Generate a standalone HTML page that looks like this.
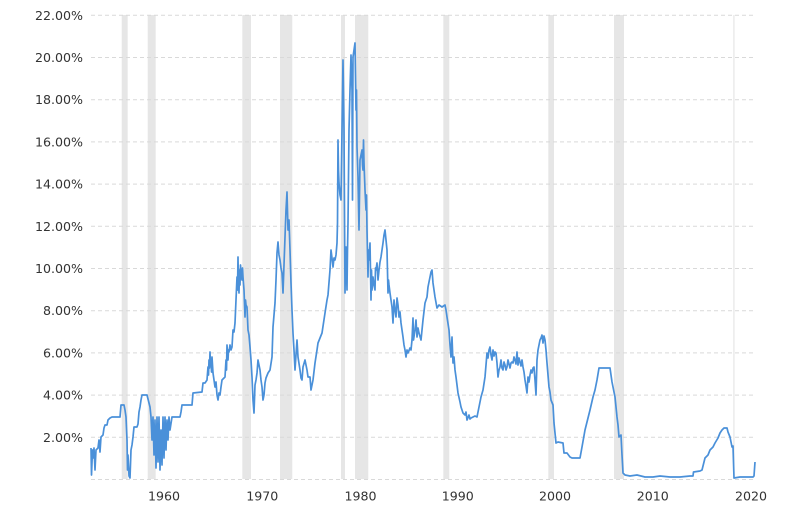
<!DOCTYPE html>
<html><head><meta charset="utf-8"><style>
html,body{margin:0;padding:0;background:#fff;}
svg{display:block;}
text{font-family:"DejaVu Sans","Liberation Sans",sans-serif;font-size:12.6px;fill:#333;}
</style></head><body>
<svg width="800" height="505" viewBox="0 0 800 505" xmlns="http://www.w3.org/2000/svg">
<g fill="#e6e6e6">
<rect x="121.7" y="15" width="6" height="464"/>
<rect x="147.7" y="15" width="8" height="464"/>
<rect x="242.3" y="15" width="8.7" height="464"/>
<rect x="280" y="15" width="12.3" height="464"/>
<rect x="341" y="15" width="4" height="464"/>
<rect x="355" y="15" width="13.3" height="464"/>
<rect x="443.3" y="15" width="6" height="464"/>
<rect x="548.3" y="15" width="5.7" height="464"/>
<rect x="614" y="15" width="10" height="464"/>
<rect x="733.3" y="15" width="1.2" height="464"/>
</g>
<g stroke="#d9d9d9" stroke-width="1" stroke-dasharray="4,3">
<line x1="91" y1="479.5" x2="755" y2="479.5"/>
<line x1="91" y1="437.3" x2="755" y2="437.3"/>
<line x1="91" y1="395.1" x2="755" y2="395.1"/>
<line x1="91" y1="352.9" x2="755" y2="352.9"/>
<line x1="91" y1="310.7" x2="755" y2="310.7"/>
<line x1="91" y1="268.5" x2="755" y2="268.5"/>
<line x1="91" y1="226.3" x2="755" y2="226.3"/>
<line x1="91" y1="184.1" x2="755" y2="184.1"/>
<line x1="91" y1="141.9" x2="755" y2="141.9"/>
<line x1="91" y1="99.7" x2="755" y2="99.7"/>
<line x1="91" y1="57.5" x2="755" y2="57.5"/>
<line x1="91" y1="15.3" x2="755" y2="15.3"/>
</g>
<g text-anchor="end">
<text x="83" y="441.8">2.00%</text>
<text x="83" y="399.6">4.00%</text>
<text x="83" y="357.4">6.00%</text>
<text x="83" y="315.2">8.00%</text>
<text x="83" y="273">10.00%</text>
<text x="83" y="230.8">12.00%</text>
<text x="83" y="188.6">14.00%</text>
<text x="83" y="146.4">16.00%</text>
<text x="83" y="104.2">18.00%</text>
<text x="83" y="62">20.00%</text>
<text x="83" y="19.8">22.00%</text>
</g>
<g text-anchor="middle">
<text x="164" y="500.5">1960</text>
<text x="262.3" y="500.5">1970</text>
<text x="360.5" y="500.5">1980</text>
<text x="457.8" y="500.5">1990</text>
<text x="555" y="500.5">2000</text>
<text x="652.8" y="500.5">2010</text>
<text x="751" y="500.5">2020</text>
</g>
<polyline fill="none" stroke="#4a90d9" stroke-width="1.7" stroke-linejoin="round" points="
91,448 91.5,475 92.5,450 93,458 94,448 95,470 96,450 98,448 99,440 100,452 101,437 103,435 104,428 105,425 107,425 108,420 110,418 112,417 120,417 121,405 124,405 125,410 126,417 127,440 127.5,470 128,455 129,476 130,478 131,450 132,445 133,437 134,427 137,427 138,424 139,412 140,407 141,400 142,395 147,395 149,403 150,407 151,417 152,440 153,417 154,455 155,420 156,468 157,417 158,462 159,417 160,470 161,430 162,465 163,417 164,458 165,417 166,450 167,420 168,440 169,417 170,430 172,417 180,417 181,412 182,405 192,405 193,393 202,392 203,383 205,383 207,380 208,367 208.5,375 209,360 209.5,368 210,352 210.5,365 211,360 211.5,372 212,357 213,373 214,380 215,387 216,382 217,395 218,400 219,393 220,395 221,387 222,380 225,377 226,360 226.5,370 227,345 228,360 228.5,350 229,352 230,345 231,350 232,347 233,330 234,332 235,323 236,300 237,277 237.5,290 238,257 238.5,285 239,293 239.5,270 240,285 240.5,265 241,273 242,280 242.5,268 243,277 244,290 245,317 245.5,300 246,305 247,307 248,330 249,335 250,347 251,360 252,377 253,400 254,413 255,385 256,380 257,373 258,360 259,365 260,370 261,380 262,387 263,400 264,395 265,383 266,378 268,373 270,370 272,357 273,327 274,315 275,303 276,280 277,253 278,242 279,255 280,260 281,268 282,273 283,293 284,265 285,237 286,210 287,192 288,230 289,220 290,250 291,283 292,310 293,333 294,350 295,370 296,355 297,340 298,357 300,370 301,378 302,380 303,367 305,360 307,370 308,377 310,377 311,390 312,385 313,380 315,363 317,350 318,343 320,338 322,333 325,313 327,300 328,295 330,270 331,250 332,258 333,267 334,258 335,260 336,255 337,243 337.5,223 338,140 338.5,170 339,183 340,195 341,200 342,130 343,60 344,130 345,293 345.5,260 346,247 347,290 347.5,250 348,223 349,130 350,90 351,55 352,90 352.5,200 353,57 354,50 355,43 356,110 356.5,90 357,147 358,177 359,230 360,160 361,155 362,150 362.5,165 363,170 363.5,140 364,163 365,190 366,210 366.5,195 367,230 368,277 368.5,250 369,260 370,243 371,300 371.5,270 372,290 373,277 374,285 375,290 375.5,268 376,270 377,263 378,280 379,270 380,262 381,257 382,250 383,243 384,235 385,230 386,240 387,250 388,293 388.5,280 389,285 390,293 391,300 392,307 393,323 394,300 395,310 396,317 397,298 398,305 399,317 400,312 401,323 402,330 403,337 404,345 405,350 406,357 407,350 408,353 410,348 411,350 412,340 413,318 413.5,340 415,330 416,320 417,337 418,328 419,333 421,340 422,330 423,320 425,303 427,297 428,287 430,277 431,272 432,270 433,283 435,297 437,308 439,305 442,307 445,305 446,310 447,317 449,330 450,345 451,357 452,337 453,363 454,357 455,370 456,377 458,393 460,402 461,407 463,413 465,415 466,412 467,420 469,415 470,419 471,418 473,417 475,416 477,417 478,412 479,407 481,397 483,390 485,377 486,365 487,353 488,358 489,350 490,347 491,355 492,360 493,350 494,356 495,352 496,353 497,363 498,377 499,370 500,367 501,360 502,368 503,370 504,362 505,365 506,370 507,367 508,360 510,368 511,363 512,362 513,363 514,357 515,360 516,364 517,352 518,365 519,358 520,362 521,366 522,360 523,367 524,372 525,380 526,386 527,393 528,377 529,382 530,375 531,370 532,373 533,368 534,367 535,380 536,395 537,360 538,350 539,345 540,340 541,338 542,335 543,343 544,336 545,340 546,350 547,363 548,375 549,387 550,392 551,400 553,405 554,423 556,443 558,442 563,443 564,453 567,453 570,457 572,458 580,458 582,447 585,430 587,422 590,410 593,397 595,390 597,380 599,368 610,368 611,375 612,382 615,397 617,417 618,425 619,437 621,435 622,455 623,473 625,475 630,476 637,475 645,477 653,477 660,476 670,477 680,477 690,476 693,476 693.5,472 700,471 702,470 704,462 705,458 708,455 710,450 713,447 715,443 718,438 720,433 722,430 724,428 727,428 728,432 730,437 732,447 733,446 734,478 740,477 747,477 753,477 754,476 755,462"/>
</svg>
</body></html>
